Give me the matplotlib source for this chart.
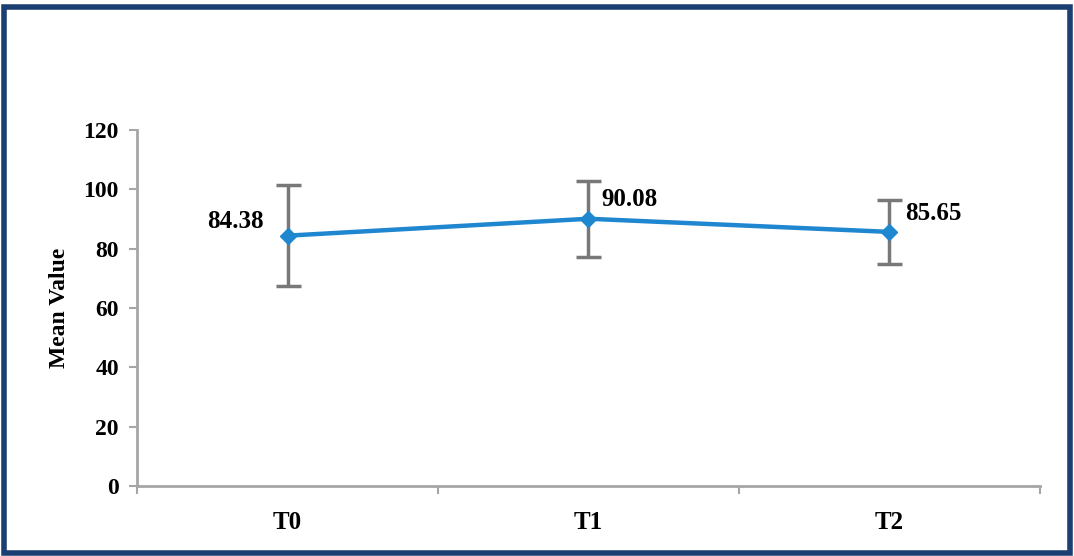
import numpy as np
import matplotlib.pyplot as plt
from matplotlib.patches import Rectangle

# data
categories = ['T0', 'T1', 'T2']
means = [84.38, 90.08, 85.65]
errors = [17.0, 12.8, 10.7]
labels = ['84.38', '90.08', '85.65']

plt.rcParams['font.family'] = ['Liberation Serif', 'DejaVu Serif']
plt.rcParams['font.weight'] = 'bold'

fig = plt.figure(figsize=(10.74, 5.56), dpi=100)
ax = fig.add_axes([0.1276, 0.1259, 0.8407, 0.6403])

x = np.arange(len(categories))
ax.errorbar(x, means, yerr=errors, fmt='none', ecolor='#787878',
            elinewidth=2.5, capsize=9, capthick=2.5, zorder=2)
ax.plot(x, means, color='#1f86d0', lw=3.2, marker='D', ms=8,
        markerfacecolor='#1f86d0', markeredgecolor='#1f86d0', zorder=3)

# data labels
offsets = [(-17, 10, 'right'), (9, 14, 'left'), (11, 13, 'left')]
for xi, yi, lab, (dx, dy, ha) in zip(x, means, labels, offsets):
    ax.annotate(lab, (xi, yi), xytext=(dx, dy), textcoords='offset points',
                ha=ha, va='center', fontsize=18, fontweight='bold')

ax.set_xlim(-0.5, 2.5)
ax.set_ylim(0, 120)
ax.set_yticks(np.arange(0, 121, 20))
ax.set_xticks(x)
ax.set_xticklabels(categories)
ax.set_xticks([-0.5, 0.5, 1.5, 2.5], minor=True)
ax.tick_params(axis='x', which='major', length=0, pad=18, labelsize=18)
ax.tick_params(axis='x', which='minor', length=6, color='#a6a6a6', width=1.5)
ax.tick_params(axis='y', length=6, color='#a6a6a6', width=1.5, labelsize=17, pad=7)
for lab in ax.get_xticklabels() + ax.get_yticklabels():
    lab.set_fontweight('bold')

for side in ['top', 'right']:
    ax.spines[side].set_visible(False)
for side in ['left', 'bottom']:
    ax.spines[side].set_color('#a6a6a6')
    ax.spines[side].set_linewidth(2)

ax.set_ylabel('Mean Value', fontsize=17, fontweight='bold', labelpad=10)

# outer frame
fig.patches.append(Rectangle((0.004, 0.006), 0.992, 0.982, transform=fig.transFigure,
                             fill=False, edgecolor='#1c3f73', linewidth=4))

fig.savefig('out.png', dpi=100)
